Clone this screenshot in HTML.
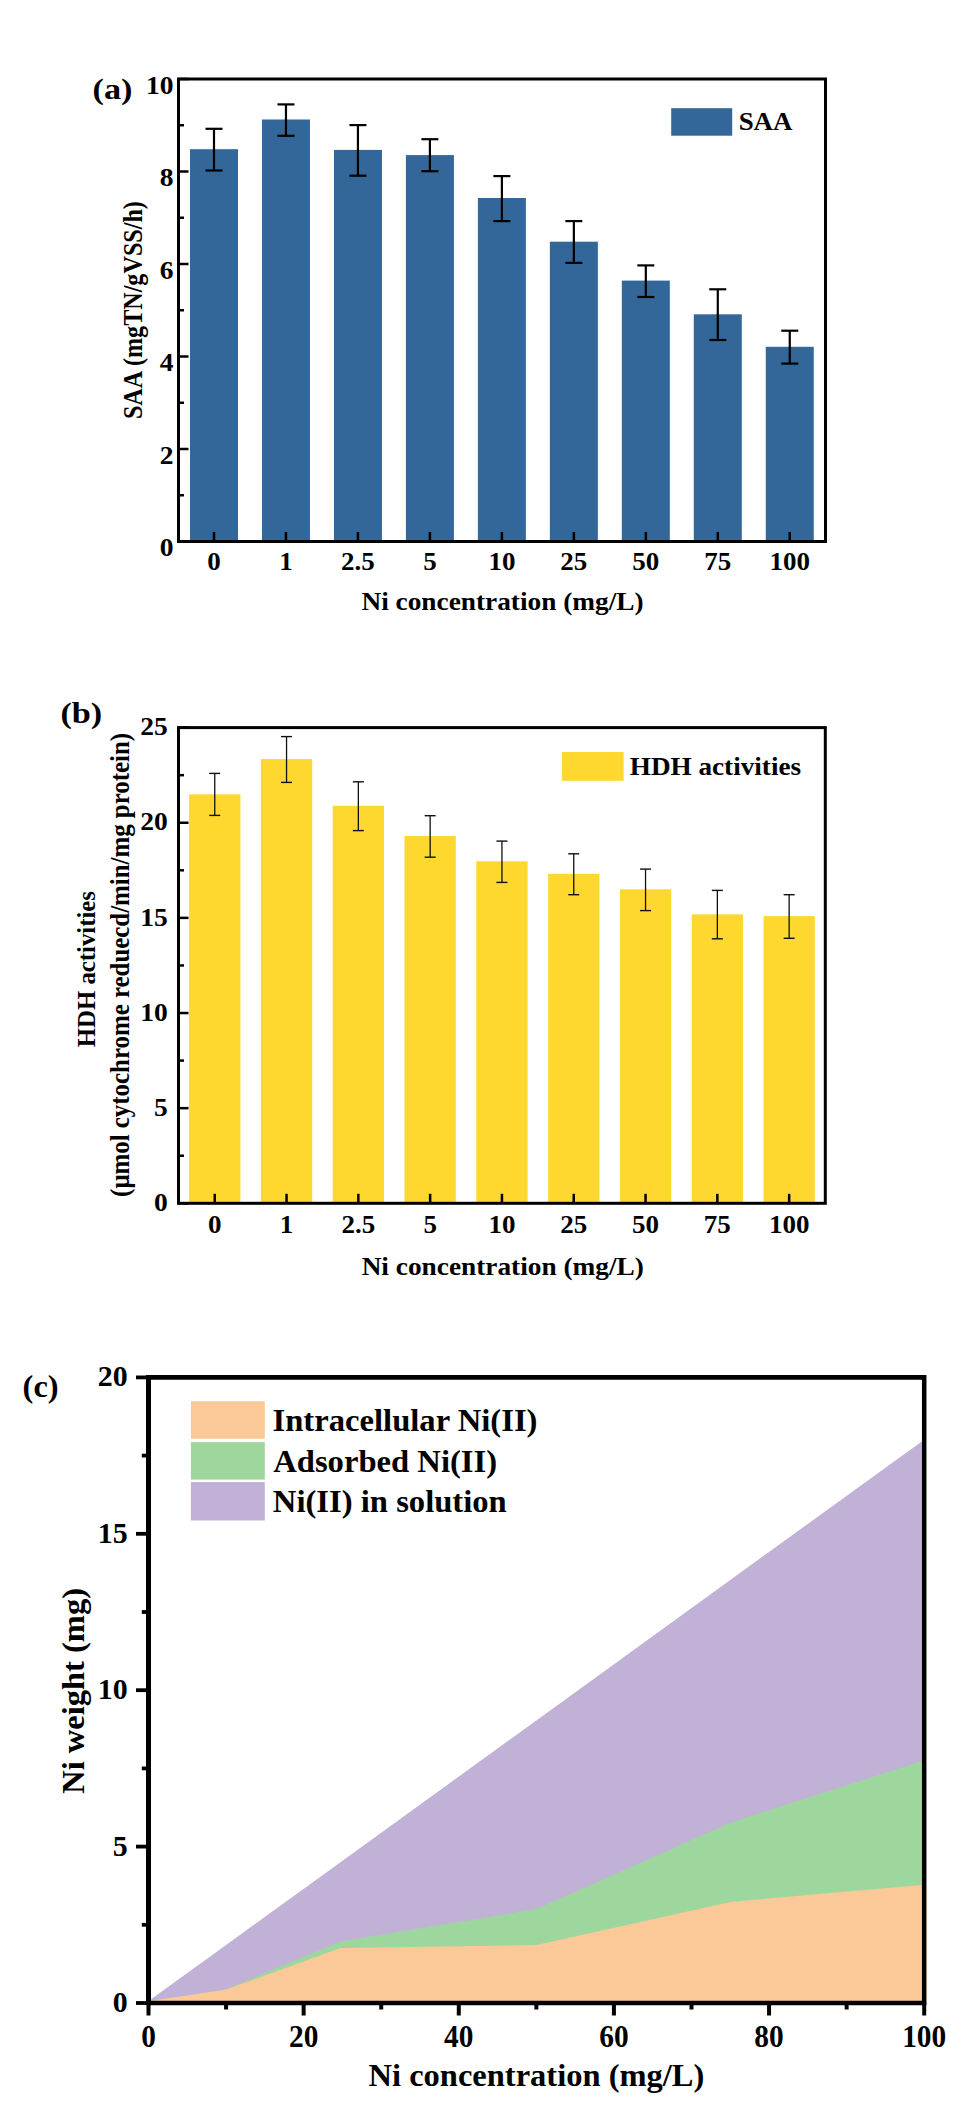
<!DOCTYPE html>
<html><head><meta charset="utf-8"><style>
html,body{margin:0;padding:0;background:#fff;}
svg{display:block;}
</style></head><body>
<svg width="969" height="2124" viewBox="0 0 969 2124">
<rect width="969" height="2124" fill="#fff"/>
<rect x="190.00" y="149.20" width="48.00" height="392.30" fill="#336699"/>
<rect x="261.97" y="119.50" width="48.00" height="422.00" fill="#336699"/>
<rect x="333.94" y="149.90" width="48.00" height="391.60" fill="#336699"/>
<rect x="405.91" y="155.10" width="48.00" height="386.40" fill="#336699"/>
<rect x="477.88" y="198.00" width="48.00" height="343.50" fill="#336699"/>
<rect x="549.85" y="241.70" width="48.00" height="299.80" fill="#336699"/>
<rect x="621.82" y="280.60" width="48.00" height="260.90" fill="#336699"/>
<rect x="693.79" y="314.30" width="48.00" height="227.20" fill="#336699"/>
<rect x="765.76" y="346.80" width="48.00" height="194.70" fill="#336699"/>
<line x1="214.00" y1="128.80" x2="214.00" y2="170.50" stroke="#000" stroke-width="2.20"/>
<line x1="205.50" y1="128.80" x2="222.50" y2="128.80" stroke="#000" stroke-width="2.20"/>
<line x1="205.50" y1="170.50" x2="222.50" y2="170.50" stroke="#000" stroke-width="2.20"/>
<line x1="285.97" y1="104.40" x2="285.97" y2="135.80" stroke="#000" stroke-width="2.20"/>
<line x1="277.47" y1="104.40" x2="294.47" y2="104.40" stroke="#000" stroke-width="2.20"/>
<line x1="277.47" y1="135.80" x2="294.47" y2="135.80" stroke="#000" stroke-width="2.20"/>
<line x1="357.94" y1="125.10" x2="357.94" y2="175.70" stroke="#000" stroke-width="2.20"/>
<line x1="349.44" y1="125.10" x2="366.44" y2="125.10" stroke="#000" stroke-width="2.20"/>
<line x1="349.44" y1="175.70" x2="366.44" y2="175.70" stroke="#000" stroke-width="2.20"/>
<line x1="429.91" y1="139.20" x2="429.91" y2="171.20" stroke="#000" stroke-width="2.20"/>
<line x1="421.41" y1="139.20" x2="438.41" y2="139.20" stroke="#000" stroke-width="2.20"/>
<line x1="421.41" y1="171.20" x2="438.41" y2="171.20" stroke="#000" stroke-width="2.20"/>
<line x1="501.88" y1="176.10" x2="501.88" y2="221.10" stroke="#000" stroke-width="2.20"/>
<line x1="493.38" y1="176.10" x2="510.38" y2="176.10" stroke="#000" stroke-width="2.20"/>
<line x1="493.38" y1="221.10" x2="510.38" y2="221.10" stroke="#000" stroke-width="2.20"/>
<line x1="573.85" y1="221.10" x2="573.85" y2="262.90" stroke="#000" stroke-width="2.20"/>
<line x1="565.35" y1="221.10" x2="582.35" y2="221.10" stroke="#000" stroke-width="2.20"/>
<line x1="565.35" y1="262.90" x2="582.35" y2="262.90" stroke="#000" stroke-width="2.20"/>
<line x1="645.82" y1="265.40" x2="645.82" y2="297.00" stroke="#000" stroke-width="2.20"/>
<line x1="637.32" y1="265.40" x2="654.32" y2="265.40" stroke="#000" stroke-width="2.20"/>
<line x1="637.32" y1="297.00" x2="654.32" y2="297.00" stroke="#000" stroke-width="2.20"/>
<line x1="717.79" y1="289.30" x2="717.79" y2="340.00" stroke="#000" stroke-width="2.20"/>
<line x1="709.29" y1="289.30" x2="726.29" y2="289.30" stroke="#000" stroke-width="2.20"/>
<line x1="709.29" y1="340.00" x2="726.29" y2="340.00" stroke="#000" stroke-width="2.20"/>
<line x1="789.76" y1="330.70" x2="789.76" y2="363.60" stroke="#000" stroke-width="2.20"/>
<line x1="781.26" y1="330.70" x2="798.26" y2="330.70" stroke="#000" stroke-width="2.20"/>
<line x1="781.26" y1="363.60" x2="798.26" y2="363.60" stroke="#000" stroke-width="2.20"/>
<rect x="178.50" y="79.00" width="647.00" height="462.50" fill="none" stroke="#000" stroke-width="3"/>
<line x1="178.50" y1="541.50" x2="188.50" y2="541.50" stroke="#000" stroke-width="2.50"/>
<line x1="178.50" y1="495.25" x2="184.00" y2="495.25" stroke="#000" stroke-width="2.50"/>
<line x1="178.50" y1="449.00" x2="188.50" y2="449.00" stroke="#000" stroke-width="2.50"/>
<line x1="178.50" y1="402.75" x2="184.00" y2="402.75" stroke="#000" stroke-width="2.50"/>
<line x1="178.50" y1="356.50" x2="188.50" y2="356.50" stroke="#000" stroke-width="2.50"/>
<line x1="178.50" y1="310.25" x2="184.00" y2="310.25" stroke="#000" stroke-width="2.50"/>
<line x1="178.50" y1="264.00" x2="188.50" y2="264.00" stroke="#000" stroke-width="2.50"/>
<line x1="178.50" y1="217.75" x2="184.00" y2="217.75" stroke="#000" stroke-width="2.50"/>
<line x1="178.50" y1="171.50" x2="188.50" y2="171.50" stroke="#000" stroke-width="2.50"/>
<line x1="178.50" y1="125.25" x2="184.00" y2="125.25" stroke="#000" stroke-width="2.50"/>
<line x1="178.50" y1="79.00" x2="188.50" y2="79.00" stroke="#000" stroke-width="2.50"/>
<text transform="translate(173.50,556.10) scale(1.134,1)" font-family="Liberation Serif" font-weight="bold" font-size="24.30" text-anchor="end" fill="#000">0</text>
<text transform="translate(173.50,463.60) scale(1.134,1)" font-family="Liberation Serif" font-weight="bold" font-size="24.30" text-anchor="end" fill="#000">2</text>
<text transform="translate(173.50,371.10) scale(1.134,1)" font-family="Liberation Serif" font-weight="bold" font-size="24.30" text-anchor="end" fill="#000">4</text>
<text transform="translate(173.50,278.60) scale(1.134,1)" font-family="Liberation Serif" font-weight="bold" font-size="24.30" text-anchor="end" fill="#000">6</text>
<text transform="translate(173.50,186.10) scale(1.134,1)" font-family="Liberation Serif" font-weight="bold" font-size="24.30" text-anchor="end" fill="#000">8</text>
<text transform="translate(173.50,93.60) scale(1.134,1)" font-family="Liberation Serif" font-weight="bold" font-size="24.30" text-anchor="end" fill="#000">10</text>
<line x1="214.00" y1="541.50" x2="214.00" y2="532.00" stroke="#000" stroke-width="2.50"/>
<text transform="translate(214.00,570.00) scale(1.085,1)" font-family="Liberation Serif" font-weight="bold" font-size="24.90" text-anchor="middle" fill="#000">0</text>
<line x1="285.97" y1="541.50" x2="285.97" y2="532.00" stroke="#000" stroke-width="2.50"/>
<text transform="translate(285.97,570.00) scale(1.085,1)" font-family="Liberation Serif" font-weight="bold" font-size="24.90" text-anchor="middle" fill="#000">1</text>
<line x1="357.94" y1="541.50" x2="357.94" y2="532.00" stroke="#000" stroke-width="2.50"/>
<text transform="translate(357.94,570.00) scale(1.085,1)" font-family="Liberation Serif" font-weight="bold" font-size="24.90" text-anchor="middle" fill="#000">2.5</text>
<line x1="429.91" y1="541.50" x2="429.91" y2="532.00" stroke="#000" stroke-width="2.50"/>
<text transform="translate(429.91,570.00) scale(1.085,1)" font-family="Liberation Serif" font-weight="bold" font-size="24.90" text-anchor="middle" fill="#000">5</text>
<line x1="501.88" y1="541.50" x2="501.88" y2="532.00" stroke="#000" stroke-width="2.50"/>
<text transform="translate(501.88,570.00) scale(1.085,1)" font-family="Liberation Serif" font-weight="bold" font-size="24.90" text-anchor="middle" fill="#000">10</text>
<line x1="573.85" y1="541.50" x2="573.85" y2="532.00" stroke="#000" stroke-width="2.50"/>
<text transform="translate(573.85,570.00) scale(1.085,1)" font-family="Liberation Serif" font-weight="bold" font-size="24.90" text-anchor="middle" fill="#000">25</text>
<line x1="645.82" y1="541.50" x2="645.82" y2="532.00" stroke="#000" stroke-width="2.50"/>
<text transform="translate(645.82,570.00) scale(1.085,1)" font-family="Liberation Serif" font-weight="bold" font-size="24.90" text-anchor="middle" fill="#000">50</text>
<line x1="717.79" y1="541.50" x2="717.79" y2="532.00" stroke="#000" stroke-width="2.50"/>
<text transform="translate(717.79,570.00) scale(1.085,1)" font-family="Liberation Serif" font-weight="bold" font-size="24.90" text-anchor="middle" fill="#000">75</text>
<line x1="789.76" y1="541.50" x2="789.76" y2="532.00" stroke="#000" stroke-width="2.50"/>
<text transform="translate(789.76,570.00) scale(1.085,1)" font-family="Liberation Serif" font-weight="bold" font-size="24.90" text-anchor="middle" fill="#000">100</text>
<text transform="translate(361.45,609.80) scale(1.120,1)" font-family="Liberation Serif" font-weight="bold" font-size="24.40" text-anchor="start" fill="#000">Ni concentration (mg/L)</text>
<text transform="translate(142.40,310.10) scale(1.150,1) rotate(-90)" font-family="Liberation Serif" font-weight="bold" font-size="24.15" text-anchor="middle" fill="#000">SAA (mgTN/gVSS/h)</text>
<rect x="671.20" y="108.20" width="61.00" height="27.50" fill="#336699"/>
<text transform="translate(738.65,129.70) scale(1.073,1)" font-family="Liberation Serif" font-weight="bold" font-size="25.10" text-anchor="start" fill="#000">SAA</text>
<text transform="translate(92.58,98.50) scale(1.168,1)" font-family="Liberation Serif" font-weight="bold" font-size="29.30" text-anchor="start" fill="#000">(a)</text>
<rect x="189.10" y="794.30" width="51.30" height="409.00" fill="#fed82f"/>
<rect x="260.90" y="759.10" width="51.30" height="444.20" fill="#fed82f"/>
<rect x="332.70" y="805.80" width="51.30" height="397.50" fill="#fed82f"/>
<rect x="404.50" y="835.90" width="51.30" height="367.40" fill="#fed82f"/>
<rect x="476.30" y="861.30" width="51.30" height="342.00" fill="#fed82f"/>
<rect x="548.10" y="873.80" width="51.30" height="329.50" fill="#fed82f"/>
<rect x="619.90" y="889.30" width="51.30" height="314.00" fill="#fed82f"/>
<rect x="691.70" y="914.30" width="51.30" height="289.00" fill="#fed82f"/>
<rect x="763.50" y="916.10" width="51.30" height="287.20" fill="#fed82f"/>
<line x1="214.75" y1="773.40" x2="214.75" y2="815.40" stroke="#111" stroke-width="1.30"/>
<line x1="209.25" y1="773.40" x2="220.25" y2="773.40" stroke="#111" stroke-width="1.40"/>
<line x1="209.25" y1="815.40" x2="220.25" y2="815.40" stroke="#111" stroke-width="1.40"/>
<line x1="286.55" y1="736.60" x2="286.55" y2="782.40" stroke="#111" stroke-width="1.30"/>
<line x1="281.05" y1="736.60" x2="292.05" y2="736.60" stroke="#111" stroke-width="1.40"/>
<line x1="281.05" y1="782.40" x2="292.05" y2="782.40" stroke="#111" stroke-width="1.40"/>
<line x1="358.35" y1="781.80" x2="358.35" y2="830.60" stroke="#111" stroke-width="1.30"/>
<line x1="352.85" y1="781.80" x2="363.85" y2="781.80" stroke="#111" stroke-width="1.40"/>
<line x1="352.85" y1="830.60" x2="363.85" y2="830.60" stroke="#111" stroke-width="1.40"/>
<line x1="430.15" y1="815.70" x2="430.15" y2="857.20" stroke="#111" stroke-width="1.30"/>
<line x1="424.65" y1="815.70" x2="435.65" y2="815.70" stroke="#111" stroke-width="1.40"/>
<line x1="424.65" y1="857.20" x2="435.65" y2="857.20" stroke="#111" stroke-width="1.40"/>
<line x1="501.95" y1="841.10" x2="501.95" y2="882.40" stroke="#111" stroke-width="1.30"/>
<line x1="496.45" y1="841.10" x2="507.45" y2="841.10" stroke="#111" stroke-width="1.40"/>
<line x1="496.45" y1="882.40" x2="507.45" y2="882.40" stroke="#111" stroke-width="1.40"/>
<line x1="573.75" y1="853.80" x2="573.75" y2="894.70" stroke="#111" stroke-width="1.30"/>
<line x1="568.25" y1="853.80" x2="579.25" y2="853.80" stroke="#111" stroke-width="1.40"/>
<line x1="568.25" y1="894.70" x2="579.25" y2="894.70" stroke="#111" stroke-width="1.40"/>
<line x1="645.55" y1="869.10" x2="645.55" y2="910.60" stroke="#111" stroke-width="1.30"/>
<line x1="640.05" y1="869.10" x2="651.05" y2="869.10" stroke="#111" stroke-width="1.40"/>
<line x1="640.05" y1="910.60" x2="651.05" y2="910.60" stroke="#111" stroke-width="1.40"/>
<line x1="717.35" y1="890.40" x2="717.35" y2="938.80" stroke="#111" stroke-width="1.30"/>
<line x1="711.85" y1="890.40" x2="722.85" y2="890.40" stroke="#111" stroke-width="1.40"/>
<line x1="711.85" y1="938.80" x2="722.85" y2="938.80" stroke="#111" stroke-width="1.40"/>
<line x1="789.15" y1="894.70" x2="789.15" y2="938.30" stroke="#111" stroke-width="1.30"/>
<line x1="783.65" y1="894.70" x2="794.65" y2="894.70" stroke="#111" stroke-width="1.40"/>
<line x1="783.65" y1="938.30" x2="794.65" y2="938.30" stroke="#111" stroke-width="1.40"/>
<rect x="178.50" y="727.60" width="646.80" height="475.70" fill="none" stroke="#000" stroke-width="3"/>
<line x1="178.50" y1="1203.30" x2="188.50" y2="1203.30" stroke="#000" stroke-width="2.50"/>
<line x1="178.50" y1="1155.73" x2="184.00" y2="1155.73" stroke="#000" stroke-width="2.50"/>
<line x1="178.50" y1="1108.16" x2="188.50" y2="1108.16" stroke="#000" stroke-width="2.50"/>
<line x1="178.50" y1="1060.59" x2="184.00" y2="1060.59" stroke="#000" stroke-width="2.50"/>
<line x1="178.50" y1="1013.02" x2="188.50" y2="1013.02" stroke="#000" stroke-width="2.50"/>
<line x1="178.50" y1="965.45" x2="184.00" y2="965.45" stroke="#000" stroke-width="2.50"/>
<line x1="178.50" y1="917.88" x2="188.50" y2="917.88" stroke="#000" stroke-width="2.50"/>
<line x1="178.50" y1="870.31" x2="184.00" y2="870.31" stroke="#000" stroke-width="2.50"/>
<line x1="178.50" y1="822.74" x2="188.50" y2="822.74" stroke="#000" stroke-width="2.50"/>
<line x1="178.50" y1="775.17" x2="184.00" y2="775.17" stroke="#000" stroke-width="2.50"/>
<line x1="178.50" y1="727.60" x2="188.50" y2="727.60" stroke="#000" stroke-width="2.50"/>
<text transform="translate(167.70,1210.90) scale(1.134,1)" font-family="Liberation Serif" font-weight="bold" font-size="24.30" text-anchor="end" fill="#000">0</text>
<text transform="translate(167.70,1116.16) scale(1.134,1)" font-family="Liberation Serif" font-weight="bold" font-size="24.30" text-anchor="end" fill="#000">5</text>
<text transform="translate(167.70,1021.22) scale(1.134,1)" font-family="Liberation Serif" font-weight="bold" font-size="24.30" text-anchor="end" fill="#000">10</text>
<text transform="translate(167.70,925.88) scale(1.134,1)" font-family="Liberation Serif" font-weight="bold" font-size="24.30" text-anchor="end" fill="#000">15</text>
<text transform="translate(167.70,829.94) scale(1.134,1)" font-family="Liberation Serif" font-weight="bold" font-size="24.30" text-anchor="end" fill="#000">20</text>
<text transform="translate(167.70,734.60) scale(1.134,1)" font-family="Liberation Serif" font-weight="bold" font-size="24.30" text-anchor="end" fill="#000">25</text>
<line x1="214.75" y1="1203.30" x2="214.75" y2="1193.80" stroke="#000" stroke-width="2.50"/>
<text transform="translate(214.75,1232.60) scale(1.085,1)" font-family="Liberation Serif" font-weight="bold" font-size="24.90" text-anchor="middle" fill="#000">0</text>
<line x1="286.55" y1="1203.30" x2="286.55" y2="1193.80" stroke="#000" stroke-width="2.50"/>
<text transform="translate(286.55,1232.60) scale(1.085,1)" font-family="Liberation Serif" font-weight="bold" font-size="24.90" text-anchor="middle" fill="#000">1</text>
<line x1="358.35" y1="1203.30" x2="358.35" y2="1193.80" stroke="#000" stroke-width="2.50"/>
<text transform="translate(358.35,1232.60) scale(1.085,1)" font-family="Liberation Serif" font-weight="bold" font-size="24.90" text-anchor="middle" fill="#000">2.5</text>
<line x1="430.15" y1="1203.30" x2="430.15" y2="1193.80" stroke="#000" stroke-width="2.50"/>
<text transform="translate(430.15,1232.60) scale(1.085,1)" font-family="Liberation Serif" font-weight="bold" font-size="24.90" text-anchor="middle" fill="#000">5</text>
<line x1="501.95" y1="1203.30" x2="501.95" y2="1193.80" stroke="#000" stroke-width="2.50"/>
<text transform="translate(501.95,1232.60) scale(1.085,1)" font-family="Liberation Serif" font-weight="bold" font-size="24.90" text-anchor="middle" fill="#000">10</text>
<line x1="573.75" y1="1203.30" x2="573.75" y2="1193.80" stroke="#000" stroke-width="2.50"/>
<text transform="translate(573.75,1232.60) scale(1.085,1)" font-family="Liberation Serif" font-weight="bold" font-size="24.90" text-anchor="middle" fill="#000">25</text>
<line x1="645.55" y1="1203.30" x2="645.55" y2="1193.80" stroke="#000" stroke-width="2.50"/>
<text transform="translate(645.55,1232.60) scale(1.085,1)" font-family="Liberation Serif" font-weight="bold" font-size="24.90" text-anchor="middle" fill="#000">50</text>
<line x1="717.35" y1="1203.30" x2="717.35" y2="1193.80" stroke="#000" stroke-width="2.50"/>
<text transform="translate(717.35,1232.60) scale(1.085,1)" font-family="Liberation Serif" font-weight="bold" font-size="24.90" text-anchor="middle" fill="#000">75</text>
<line x1="789.15" y1="1203.30" x2="789.15" y2="1193.80" stroke="#000" stroke-width="2.50"/>
<text transform="translate(789.15,1232.60) scale(1.085,1)" font-family="Liberation Serif" font-weight="bold" font-size="24.90" text-anchor="middle" fill="#000">100</text>
<text transform="translate(361.65,1274.80) scale(1.120,1)" font-family="Liberation Serif" font-weight="bold" font-size="24.40" text-anchor="start" fill="#000">Ni concentration (mg/L)</text>
<text transform="translate(94.50,969.10) scale(1.050,1) rotate(-90)" font-family="Liberation Serif" font-weight="bold" font-size="24.80" text-anchor="middle" fill="#000">HDH activities</text>
<text transform="translate(129.30,964.90) scale(1.100,1) rotate(-90)" font-family="Liberation Serif" font-weight="bold" font-size="24.90" text-anchor="middle" fill="#000">(&#956;mol cytochrome reduecd/min/mg protein)</text>
<rect x="561.80" y="752.00" width="61.80" height="28.80" fill="#fed82f"/>
<text transform="translate(629.76,775.00) scale(1.083,1)" font-family="Liberation Serif" font-weight="bold" font-size="25.10" text-anchor="start" fill="#000">HDH activities</text>
<text transform="translate(60.43,722.80) scale(1.168,1)" font-family="Liberation Serif" font-weight="bold" font-size="29.30" text-anchor="start" fill="#000">(b)</text>
<polygon points="148.50,2001.10 156.26,1995.49 167.89,1987.06 187.28,1973.03 226.07,1944.96 340.49,1862.15 536.35,1720.39 730.27,1580.03 924.20,1439.68 924.20,2001.10 730.27,2001.10 536.35,2001.10 340.49,2001.10 226.07,2001.10 187.28,2001.10 167.89,2001.10 156.26,2001.10 148.50,2001.10" fill="#c1b1d6"/>
<polygon points="148.50,2001.10 156.26,2000.01 167.89,1998.29 187.28,1995.49 226.07,1989.25 340.49,1941.53 536.35,1909.09 730.27,1822.69 924.20,1760.31 924.20,2001.10 730.27,2001.10 536.35,2001.10 340.49,2001.10 226.07,2001.10 187.28,2001.10 167.89,2001.10 156.26,2001.10 148.50,2001.10" fill="#9dd79d"/>
<polygon points="148.50,2001.10 156.26,2000.01 167.89,1998.29 187.28,1995.49 226.07,1989.56 340.49,1948.08 536.35,1944.96 730.27,1901.92 924.20,1884.76 924.20,2001.10 730.27,2001.10 536.35,2001.10 340.49,2001.10 226.07,2001.10 187.28,2001.10 167.89,2001.10 156.26,2001.10 148.50,2001.10" fill="#fbc898"/>
<line x1="148.50" y1="1377.30" x2="924.20" y2="1377.30" stroke="#000" stroke-width="4.80"/>
<line x1="148.50" y1="2003.00" x2="924.20" y2="2003.00" stroke="#000" stroke-width="4.50"/>
<line x1="148.50" y1="1374.90" x2="148.50" y2="2005.25" stroke="#000" stroke-width="5.00"/>
<line x1="924.20" y1="1374.90" x2="924.20" y2="2005.25" stroke="#000" stroke-width="4.50"/>
<line x1="136.00" y1="2003.00" x2="148.50" y2="2003.00" stroke="#000" stroke-width="3.80"/>
<line x1="141.80" y1="1924.80" x2="148.50" y2="1924.80" stroke="#000" stroke-width="3.80"/>
<line x1="136.00" y1="1846.60" x2="148.50" y2="1846.60" stroke="#000" stroke-width="3.80"/>
<line x1="141.80" y1="1768.40" x2="148.50" y2="1768.40" stroke="#000" stroke-width="3.80"/>
<line x1="136.00" y1="1690.20" x2="148.50" y2="1690.20" stroke="#000" stroke-width="3.80"/>
<line x1="141.80" y1="1612.00" x2="148.50" y2="1612.00" stroke="#000" stroke-width="3.80"/>
<line x1="136.00" y1="1533.80" x2="148.50" y2="1533.80" stroke="#000" stroke-width="3.80"/>
<line x1="141.80" y1="1455.60" x2="148.50" y2="1455.60" stroke="#000" stroke-width="3.80"/>
<line x1="136.00" y1="1377.40" x2="148.50" y2="1377.40" stroke="#000" stroke-width="3.80"/>
<text transform="translate(127.60,2012.00) scale(0.980,1)" font-family="Liberation Serif" font-weight="bold" font-size="30.50" text-anchor="end" fill="#000">0</text>
<text transform="translate(127.60,1855.60) scale(0.980,1)" font-family="Liberation Serif" font-weight="bold" font-size="30.50" text-anchor="end" fill="#000">5</text>
<text transform="translate(127.60,1699.20) scale(0.980,1)" font-family="Liberation Serif" font-weight="bold" font-size="30.50" text-anchor="end" fill="#000">10</text>
<text transform="translate(127.60,1542.80) scale(0.980,1)" font-family="Liberation Serif" font-weight="bold" font-size="30.50" text-anchor="end" fill="#000">15</text>
<text transform="translate(127.60,1386.40) scale(0.980,1)" font-family="Liberation Serif" font-weight="bold" font-size="30.50" text-anchor="end" fill="#000">20</text>
<line x1="148.50" y1="2003.00" x2="148.50" y2="2015.50" stroke="#000" stroke-width="4.00"/>
<line x1="226.07" y1="2003.00" x2="226.07" y2="2009.50" stroke="#000" stroke-width="4.00"/>
<line x1="303.64" y1="2003.00" x2="303.64" y2="2015.50" stroke="#000" stroke-width="4.00"/>
<line x1="381.21" y1="2003.00" x2="381.21" y2="2009.50" stroke="#000" stroke-width="4.00"/>
<line x1="458.78" y1="2003.00" x2="458.78" y2="2015.50" stroke="#000" stroke-width="4.00"/>
<line x1="536.35" y1="2003.00" x2="536.35" y2="2009.50" stroke="#000" stroke-width="4.00"/>
<line x1="613.92" y1="2003.00" x2="613.92" y2="2015.50" stroke="#000" stroke-width="4.00"/>
<line x1="691.49" y1="2003.00" x2="691.49" y2="2009.50" stroke="#000" stroke-width="4.00"/>
<line x1="769.06" y1="2003.00" x2="769.06" y2="2015.50" stroke="#000" stroke-width="4.00"/>
<line x1="846.63" y1="2003.00" x2="846.63" y2="2009.50" stroke="#000" stroke-width="4.00"/>
<line x1="924.20" y1="2003.00" x2="924.20" y2="2015.50" stroke="#000" stroke-width="4.00"/>
<text transform="translate(148.50,2047.10) scale(0.945,1)" font-family="Liberation Serif" font-weight="bold" font-size="31.10" text-anchor="middle" fill="#000">0</text>
<text transform="translate(303.64,2047.10) scale(0.945,1)" font-family="Liberation Serif" font-weight="bold" font-size="31.10" text-anchor="middle" fill="#000">20</text>
<text transform="translate(458.78,2047.10) scale(0.945,1)" font-family="Liberation Serif" font-weight="bold" font-size="31.10" text-anchor="middle" fill="#000">40</text>
<text transform="translate(613.92,2047.10) scale(0.945,1)" font-family="Liberation Serif" font-weight="bold" font-size="31.10" text-anchor="middle" fill="#000">60</text>
<text transform="translate(769.06,2047.10) scale(0.945,1)" font-family="Liberation Serif" font-weight="bold" font-size="31.10" text-anchor="middle" fill="#000">80</text>
<text transform="translate(924.20,2047.10) scale(0.945,1)" font-family="Liberation Serif" font-weight="bold" font-size="31.10" text-anchor="middle" fill="#000">100</text>
<text transform="translate(368.55,2085.80) scale(1.000,1)" font-family="Liberation Serif" font-weight="bold" font-size="32.50" text-anchor="start" fill="#000">Ni concentration (mg/L)</text>
<text transform="translate(84.00,1690.90) scale(1.000,1) rotate(-90)" font-family="Liberation Serif" font-weight="bold" font-size="32.50" text-anchor="middle" fill="#000">Ni weight (mg)</text>
<rect x="190.90" y="1401.20" width="73.90" height="37.60" fill="#fbc898"/>
<rect x="190.90" y="1442.10" width="73.90" height="37.50" fill="#9dd79d"/>
<rect x="190.90" y="1482.10" width="73.90" height="38.40" fill="#c1b1d6"/>
<text transform="translate(272.52,1431.10) scale(1.020,1)" font-family="Liberation Serif" font-weight="bold" font-size="32.00" text-anchor="start" fill="#000">Intracellular Ni(II)</text>
<text transform="translate(273.17,1471.60) scale(1.020,1)" font-family="Liberation Serif" font-weight="bold" font-size="32.00" text-anchor="start" fill="#000">Adsorbed Ni(II)</text>
<text transform="translate(272.85,1512.30) scale(1.020,1)" font-family="Liberation Serif" font-weight="bold" font-size="32.00" text-anchor="start" fill="#000">Ni(II) in solution</text>
<text transform="translate(22.60,1396.50) scale(1.040,1)" font-family="Liberation Serif" font-weight="bold" font-size="31.20" text-anchor="start" fill="#000">(c)</text>
</svg>
</body></html>
